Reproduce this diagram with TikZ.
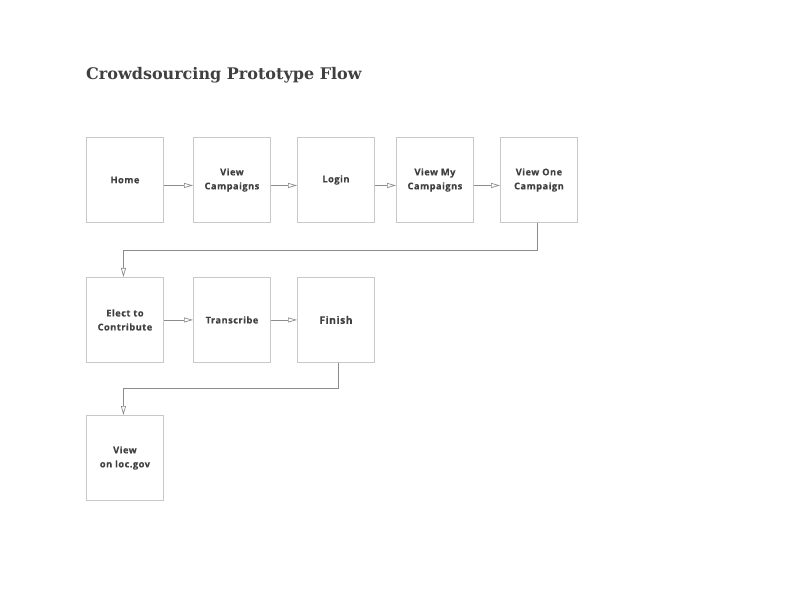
\documentclass[tikz,border=0pt]{standalone}
\usepackage{fontspec}
\setmainfont{Open Sans}
\newfontfamily\boxfont[LetterSpace=5, FakeBold=0.4]{Open Sans}
\newfontfamily\titlefont{DejaVu Serif}
\usetikzlibrary{arrows.meta}
\definecolor{txt}{HTML}{404040}
\definecolor{bord}{HTML}{C8C8C8}
\definecolor{conn}{HTML}{8C8C8C}
\tikzset{
  flowbox/.style={draw=bord, line width=0.9pt, minimum width=77pt, minimum height=85pt, inner sep=0pt, anchor=north west, text=txt, font=\boxfont\bfseries\fontsize{9.3}{14}\selectfont, align=center},
  flowarrow/.style={draw=conn, line width=0.7pt, -{Triangle[open, length=9pt, width=5pt, fill=white]}}
}
\begin{document}
\begin{tikzpicture}[x=1pt,y=-1pt]
\useasboundingbox (0,0) rectangle (792,612);
\node[anchor=west, inner sep=0pt, text=txt, font=\titlefont\bfseries\fontsize{16}{17}\selectfont] (title) at (86,75) {Crowdsourcing Prototype Flow};
% row 1
\node[flowbox] (home) at (86,137) {Home};
\node[flowbox] (viewc) at (193,137) {View\\Campaigns};
\node[flowbox] (login) at (297,137) {Login};
\node[flowbox] (viewmy) at (396,137) {View My\\Campaigns};
\node[flowbox] (viewone) at (500,137) {View One\\Campaign};
% row 2
\node[flowbox] (elect) at (86,277) {Elect to\\Contribute};
\node[flowbox] (trans) at (193,277) {Transcribe};
\node[flowbox, font=\boxfont\bfseries\fontsize{10.3}{14}\selectfont] (finish) at (297,277) {Finish};
% row 3
\node[flowbox] (loc) at (86,415) {View\\on loc.gov};
% connectors
\draw[flowarrow] ([yshift=-5.5pt]home.east) -- ([yshift=-5.5pt]viewc.west);
\draw[flowarrow] ([yshift=-5.5pt]viewc.east) -- ([yshift=-5.5pt]login.west);
\draw[flowarrow] ([yshift=-5.5pt]login.east) -- ([yshift=-5.5pt]viewmy.west);
\draw[flowarrow] ([yshift=-5.5pt]viewmy.east) -- ([yshift=-5.5pt]viewone.west);
\draw[flowarrow] (elect.east) -- (trans.west);
\draw[flowarrow] (trans.east) -- (finish.west);
\draw[flowarrow] ([xshift=-1.5pt]viewone.south) -- ++(0,27) -| ([xshift=-1.5pt]elect.north);
\draw[flowarrow] ([xshift=2.5pt]finish.south) -- ++(0,25) -| ([xshift=-1.5pt]loc.north);
\end{tikzpicture}
\end{document}
